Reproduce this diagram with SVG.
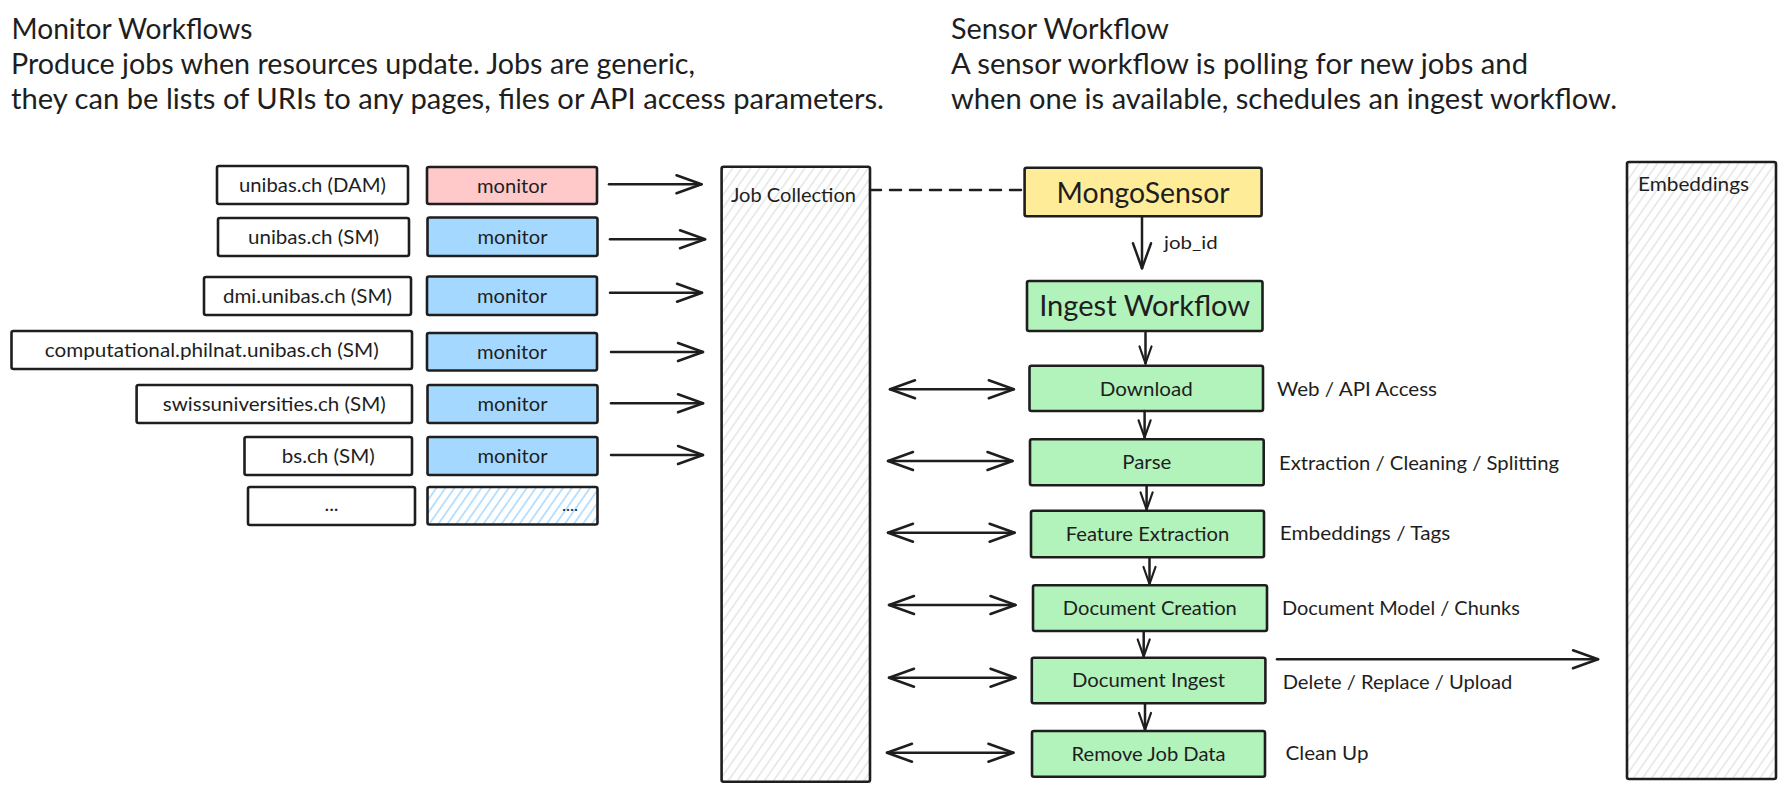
<svg xmlns="http://www.w3.org/2000/svg" width="1785" height="791" viewBox="0 0 1785 791">
<defs>
<style>
.t{font-family:Lato,"Noto Sans","DejaVu Sans",sans-serif;fill:#1e1e1e}
.h{font-size:28px}
.n{font-size:20px}
.s{font-size:17px}
.box{stroke:#1e1e1e;stroke-width:2.6}
.w{fill:#fff}
.pink{fill:#ffc9c9}
.blue{fill:#a5d8ff}
.yellow{fill:#ffec99}
.green{fill:#b2f2bb}
.c{fill:none;stroke:#1e1e1e;stroke-width:2.5;stroke-linecap:round}
</style>
<pattern id="hatchGray" patternUnits="userSpaceOnUse" width="7.4" height="20" patternTransform="rotate(35)">
<rect width="7.4" height="20" fill="#fff"/>
<line x1="1" y1="0" x2="1" y2="20" stroke="#d8d8d8" stroke-width="1"/>
</pattern>
<pattern id="hatchBlue" patternUnits="userSpaceOnUse" width="7.4" height="20" patternTransform="rotate(35)">
<rect width="7.4" height="20" fill="#fff"/>
<line x1="1" y1="0" x2="1" y2="20" stroke="#a5d8ff" stroke-width="1.5"/>
</pattern>
<marker id="ah" viewBox="-27 -11 29 22" refX="0" refY="0" markerWidth="29" markerHeight="22" markerUnits="userSpaceOnUse" orient="auto-start-reverse">
<path d="M-25,-9 L0,0 L-25,9" fill="none" stroke="#1e1e1e" stroke-width="2.5" stroke-linecap="round" stroke-linejoin="round"/>
</marker>
<marker id="ahs" viewBox="-19 -8 21 16" refX="0" refY="0" markerWidth="21" markerHeight="16" markerUnits="userSpaceOnUse" orient="auto">
<path d="M-17,-6 L0,0 L-17,6" fill="none" stroke="#1e1e1e" stroke-width="2.2" stroke-linecap="round" stroke-linejoin="round"/>
</marker>
</defs>

<g id="headers">
<text class="t h" x="11.5" y="39" textLength="241" lengthAdjust="spacingAndGlyphs">Monitor Workflows</text>
<text class="t h" x="11" y="74" textLength="684" lengthAdjust="spacingAndGlyphs">Produce jobs when resources update. Jobs are generic,</text>
<text class="t h" x="11" y="109" textLength="873" lengthAdjust="spacingAndGlyphs">they can be lists of URIs to any pages, files or API access parameters.</text>
<text class="t h" x="951" y="39" textLength="218" lengthAdjust="spacingAndGlyphs">Sensor Workflow</text>
<text class="t h" x="951" y="74" textLength="577" lengthAdjust="spacingAndGlyphs">A sensor workflow is polling for new jobs and</text>
<text class="t h" x="951" y="109" textLength="666" lengthAdjust="spacingAndGlyphs">when one is available, schedules an ingest workflow.</text>
</g>

<g id="src-dam"><rect class="box w" x="217" y="166" width="191" height="38" rx="2"/><text class="t n" x="312.5" y="192" text-anchor="middle" textLength="147" lengthAdjust="spacingAndGlyphs">unibas.ch (DAM)</text></g>
<g id="src-unibas-sm"><rect class="box w" x="218" y="218" width="191" height="38" rx="2"/><text class="t n" x="313.5" y="244" text-anchor="middle" textLength="131" lengthAdjust="spacingAndGlyphs">unibas.ch (SM)</text></g>
<g id="src-dmi"><rect class="box w" x="204" y="277" width="207" height="38" rx="2"/><text class="t n" x="307.5" y="303" text-anchor="middle" textLength="169" lengthAdjust="spacingAndGlyphs">dmi.unibas.ch (SM)</text></g>
<g id="src-comp"><rect class="box w" x="11.5" y="331" width="400.5" height="38" rx="2"/><text class="t n" x="211.8" y="357" text-anchor="middle" textLength="334" lengthAdjust="spacingAndGlyphs">computational.philnat.unibas.ch (SM)</text></g>
<g id="src-swiss"><rect class="box w" x="136.6" y="385" width="275.4" height="38" rx="2"/><text class="t n" x="274.3" y="411" text-anchor="middle" textLength="223" lengthAdjust="spacingAndGlyphs">swissuniversities.ch (SM)</text></g>
<g id="src-bs"><rect class="box w" x="244.5" y="437" width="167.5" height="38" rx="2"/><text class="t n" x="328.3" y="463" text-anchor="middle" textLength="93" lengthAdjust="spacingAndGlyphs">bs.ch (SM)</text></g>
<g id="src-more"><rect class="box w" x="248" y="487" width="167" height="38" rx="2"/><text class="t n" x="331.5" y="511" text-anchor="middle">...</text></g>

<g id="mon-1"><rect class="box pink" x="427" y="167" width="170" height="37" rx="2"/><text class="t n" x="512" y="192.5" text-anchor="middle" textLength="70" lengthAdjust="spacingAndGlyphs">monitor</text></g>
<g id="mon-2"><rect class="box blue" x="427.5" y="217.5" width="170" height="38.5" rx="2"/><text class="t n" x="512.5" y="243.5" text-anchor="middle" textLength="70" lengthAdjust="spacingAndGlyphs">monitor</text></g>
<g id="mon-3"><rect class="box blue" x="427" y="276.5" width="170" height="38.5" rx="2"/><text class="t n" x="512" y="302.5" text-anchor="middle" textLength="70" lengthAdjust="spacingAndGlyphs">monitor</text></g>
<g id="mon-4"><rect class="box blue" x="427" y="333" width="170" height="37.5" rx="2"/><text class="t n" x="512" y="358.7" text-anchor="middle" textLength="70" lengthAdjust="spacingAndGlyphs">monitor</text></g>
<g id="mon-5"><rect class="box blue" x="427.5" y="385" width="170" height="38" rx="2"/><text class="t n" x="512.5" y="410.7" text-anchor="middle" textLength="70" lengthAdjust="spacingAndGlyphs">monitor</text></g>
<g id="mon-6"><rect class="box blue" x="427.5" y="437" width="170" height="38" rx="2"/><text class="t n" x="512.5" y="462.7" text-anchor="middle" textLength="70" lengthAdjust="spacingAndGlyphs">monitor</text></g>
<g id="mon-more"><rect class="box" fill="url(#hatchBlue)" x="427.5" y="487" width="170" height="37.5" rx="2"/><text class="t s" x="562" y="511">....</text></g>

<g id="job-collection"><rect class="box" fill="url(#hatchGray)" x="721.6" y="166.7" width="148.4" height="615" rx="2"/><text class="t n" x="731" y="201.5" textLength="125" lengthAdjust="spacingAndGlyphs">Job Collection</text></g>

<g id="embeddings"><rect class="box" fill="url(#hatchGray)" x="1627" y="162" width="149" height="617" rx="2"/><text class="t n" x="1638" y="191.3" textLength="111" lengthAdjust="spacingAndGlyphs">Embeddings</text></g>

<g id="mongo-sensor"><rect class="box yellow" x="1024.6" y="167.7" width="237" height="48.6" rx="2"/><text class="t h" x="1143.1" y="202.5" text-anchor="middle" textLength="173" lengthAdjust="spacingAndGlyphs">MongoSensor</text></g>
<g id="ingest-workflow"><rect class="box green" x="1027" y="281" width="235.5" height="50" rx="2"/><text class="t h" x="1144.7" y="316" text-anchor="middle" textLength="211" lengthAdjust="spacingAndGlyphs">Ingest Workflow</text></g>
<g id="download"><rect class="box green" x="1029.5" y="365.7" width="233.5" height="45.3" rx="2"/><text class="t n" x="1146.3" y="396" text-anchor="middle" textLength="93" lengthAdjust="spacingAndGlyphs">Download</text><text class="t n" x="1277" y="396" textLength="160" lengthAdjust="spacingAndGlyphs">Web / API Access</text></g>
<g id="parse"><rect class="box green" x="1030" y="439.3" width="233.7" height="46" rx="2"/><text class="t n" x="1146.8" y="469" text-anchor="middle" textLength="49" lengthAdjust="spacingAndGlyphs">Parse</text><text class="t n" x="1279" y="470.3" textLength="280" lengthAdjust="spacingAndGlyphs">Extraction / Cleaning / Splitting</text></g>
<g id="feature-extraction"><rect class="box green" x="1031" y="510.7" width="233" height="46.6" rx="2"/><text class="t n" x="1147.5" y="540.5" text-anchor="middle" textLength="163.6" lengthAdjust="spacingAndGlyphs">Feature Extraction</text><text class="t n" x="1279.8" y="539.7" textLength="170.5" lengthAdjust="spacingAndGlyphs">Embeddings / Tags</text></g>
<g id="document-creation"><rect class="box green" x="1033" y="585.3" width="234" height="45.7" rx="2"/><text class="t n" x="1149.8" y="615" text-anchor="middle" textLength="174" lengthAdjust="spacingAndGlyphs">Document Creation</text><text class="t n" x="1282" y="615.3" textLength="237.8" lengthAdjust="spacingAndGlyphs">Document Model / Chunks</text></g>
<g id="document-ingest"><rect class="box green" x="1031.8" y="657.7" width="233.6" height="45.6" rx="2"/><text class="t n" x="1148.5" y="687.3" text-anchor="middle" textLength="153" lengthAdjust="spacingAndGlyphs">Document Ingest</text><text class="t n" x="1282.7" y="688.7" textLength="229.6" lengthAdjust="spacingAndGlyphs">Delete / Replace / Upload</text></g>
<g id="remove-job-data"><rect class="box green" x="1032" y="731" width="233" height="45.7" rx="2"/><text class="t n" x="1148.6" y="760.5" text-anchor="middle" textLength="154" lengthAdjust="spacingAndGlyphs">Remove Job Data</text><text class="t n" x="1285.5" y="759.7" textLength="83" lengthAdjust="spacingAndGlyphs">Clean Up</text></g>

<g id="connectors">
<line class="c" x1="609" y1="184.3" x2="701.5" y2="184.3" marker-end="url(#ah)"/>
<line class="c" x1="610" y1="239.3" x2="705" y2="239.3" marker-end="url(#ah)"/>
<line class="c" x1="610" y1="292.7" x2="702" y2="292.7" marker-end="url(#ah)"/>
<line class="c" x1="611" y1="352" x2="703" y2="352" marker-end="url(#ah)"/>
<line class="c" x1="611" y1="403.3" x2="703" y2="403.3" marker-end="url(#ah)"/>
<line class="c" x1="611" y1="455" x2="703" y2="455" marker-end="url(#ah)"/>
<line class="c" x1="870" y1="190" x2="1024.6" y2="190" stroke-dasharray="11 9"/>
<line class="c" x1="1142" y1="216.7" x2="1142" y2="268.3" marker-end="url(#ah)"/>
<text class="t s" x="1164" y="248.5" textLength="53.7" lengthAdjust="spacingAndGlyphs">job_id</text>
<line class="c" x1="1145.5" y1="332.7" x2="1145.5" y2="363.5" marker-end="url(#ahs)"/>
<line class="c" x1="1144.6" y1="411" x2="1144.6" y2="437.3" marker-end="url(#ahs)"/>
<line class="c" x1="1146.6" y1="486" x2="1146.6" y2="509.5" marker-end="url(#ahs)"/>
<line class="c" x1="1149.5" y1="558" x2="1149.5" y2="584" marker-end="url(#ahs)"/>
<line class="c" x1="1143.7" y1="632" x2="1143.7" y2="656.5" marker-end="url(#ahs)"/>
<line class="c" x1="1145" y1="704.3" x2="1145" y2="730" marker-end="url(#ahs)"/>
<line class="c" x1="890" y1="389.3" x2="1013.8" y2="389.3" marker-start="url(#ah)" marker-end="url(#ah)"/>
<line class="c" x1="888" y1="461" x2="1012.5" y2="461" marker-start="url(#ah)" marker-end="url(#ah)"/>
<line class="c" x1="888" y1="532.7" x2="1014.6" y2="532.7" marker-start="url(#ah)" marker-end="url(#ah)"/>
<line class="c" x1="889" y1="605" x2="1015.5" y2="605" marker-start="url(#ah)" marker-end="url(#ah)"/>
<line class="c" x1="889" y1="677.7" x2="1015.5" y2="677.7" marker-start="url(#ah)" marker-end="url(#ah)"/>
<line class="c" x1="887" y1="752.7" x2="1013.4" y2="752.7" marker-start="url(#ah)" marker-end="url(#ah)"/>
<line class="c" x1="1277" y1="659.3" x2="1598" y2="659.3" marker-end="url(#ah)"/>
</g>
</svg>
